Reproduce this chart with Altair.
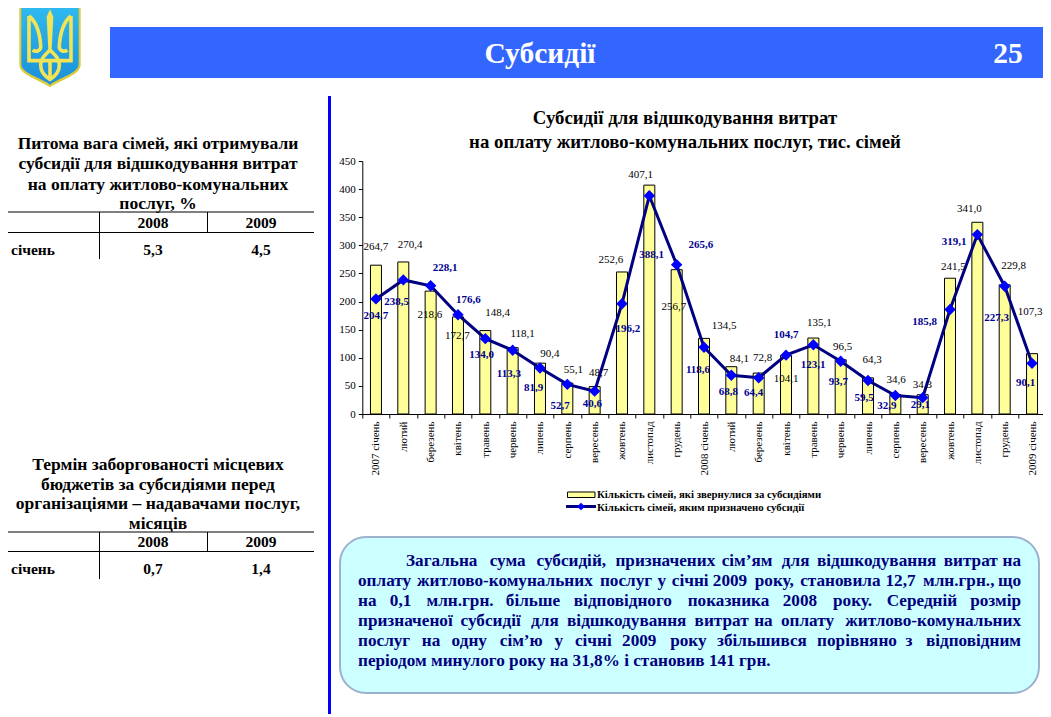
import altair as alt
import pandas as pd

# ---------- data ----------
MONTHS = ["2007 січень", "лютий", "березень", "квітень", "травень", "червень", "липень",
          "серпень", "вересень", "жовтень", "листопад", "грудень",
          "2008 січень", "лютий", "березень", "квітень", "травень", "червень", "липень",
          "серпень", "вересень", "жовтень", "листопад", "грудень", "2009 січень"]
APPLIED = [264.7, 270.4, 218.6, 172.7, 148.4, 118.1, 90.4, 55.1, 48.7, 252.6, 407.1, 256.7,
           134.5, 84.1, 72.8, 104.1, 135.1, 96.5, 64.3, 34.6, 34.3, 241.5, 341.0, 229.8, 107.3]
GRANTED = [204.7, 238.5, 228.1, 176.6, 134.0, 113.3, 81.9, 52.7, 40.6, 196.2, 388.1, 265.6,
           118.6, 68.8, 64.4, 104.7, 123.1, 93.7, 59.5, 32.9, 29.1, 185.8, 319.1, 227.3, 90.1]
SERIES_A = "Кількість сімей, які звернулися за субсидіями"
SERIES_B = "Кількість сімей, яким призначено субсидії"

PAGE_TITLE = "Субсидії"
PAGE_NO = "25"
CHART_TITLE = ["Субсидії для відшкодування витрат", "на оплату житлово-комунальних послуг, тис. сімей"]
T1_TITLE = ["Питома вага сімей, які отримували", "субсидії для відшкодування витрат",
            "на оплату житлово-комунальних", "послуг, %"]
T2_TITLE = ["Термін заборгованості місцевих", "бюджетів за субсидіями перед",
            "організаціями – надавачами послуг,", "місяців"]
T_YEARS = ["2008", "2009"]
T_ROW = "січень"
T1_VALUES = ["5,3", "4,5"]
T2_VALUES = ["0,7", "1,4"]
BOX_LINES = [
    "Загальна сума субсидій, призначених сім’ям для відшкодування витрат на",
    "оплату житлово-комунальних послуг у січні 2009 року, становила 12,7 млн.грн., що",
    "на 0,1 млн.грн. більше відповідного показника 2008 року. Середній розмір",
    "призначеної субсидії для відшкодування витрат на оплату житлово-комунальних",
    "послуг на одну сім’ю у січні 2009 року збільшився  порівняно з відповідним",
    "періодом минулого року на 31,8% і становив 141 грн.",
]

# ---------- label placement (pixels from the data point) ----------
A_DX = [0, 6.7, -0.7, -0.7, 12.4, 10, 10, 6, 4, -11, -8.6, -2.7, 20, 8, 4, 0, 6, 2, 4, 0.7, -0.4, 3.3, -8, 9, -2]
A_DY = [-17.9, -16.7, 24.2, 19.1, -17.3, -13.3, -8.9, -13, -13.3, -11.7, -10.1, 37.6, -12.4, -7.4, -14.8, 23.8,
        -15, -12.7, -17.9, -14.5, -9.4, -11.5, -13.3, -18.5, -41.7]
B_DX = [0, -6.6, 14.6, 10.3, -3.6, -3.7, -6.3, -7.3, -2.4, 6, 2.4, 24.3, -6, -3, -5, 0, -0.3, -2.4, -4, -8.6, -2.4,
        -25.3, -23.3, -8, -6.3]
B_DY = [17.1, 22.4, -17.8, -14.7, 16.3, 23.7, 20, 21.6, 12.8, 25.3, 59.5, -19.7, 22.7, 17, 15.5, -19.8, 20.2, 20.7,
        17.5, 10.5, 7.7, 12.5, 7.4, 31.8, 19.7]

# ---------- layout ----------
PLOT_L, PLOT_T, PLOT_W, PLOT_H = 362.3, 161.0, 683.4, 253.0
PAGE_W, PAGE_H = 1035, 706
SERIF = "Liberation Serif"
NAVY = "#000080"


def px(x):
    return x - PLOT_L


def py(y):
    return y - PLOT_T


one = pd.DataFrame({"a": [0]})


def text(s, x, y, size, color="black", bold=True, align="center"):
    return alt.Chart(one).mark_text(
        text=s, font=SERIF, fontSize=size, fontWeight="bold" if bold else "normal",
        color=color, align=align, baseline="middle"
    ).encode(x=alt.value(px(x)), y=alt.value(py(y)))


def rect(x0, y0, x1, y1, fill, **kw):
    return alt.Chart(one).mark_rect(fill=fill, **kw).encode(
        x=alt.value(px(x0)), x2=alt.value(px(x1)), y=alt.value(py(y0)), y2=alt.value(py(y1)))


def hrule(x0, x1, y, color="black", w=1.0):
    return alt.Chart(one).mark_rule(color=color, strokeWidth=w).encode(
        x=alt.value(px(x0)), x2=alt.value(px(x1)), y=alt.value(py(y)))


def vrule(x, y0, y1, color="black", w=1.0):
    return alt.Chart(one).mark_rule(color=color, strokeWidth=w).encode(
        x=alt.value(px(x)), y=alt.value(py(y0)), y2=alt.value(py(y1)))


# ---------- logo ----------
LOGO_CX, LOGO_CY, LOGO_UNIT = 50.0, 45.0, 45.0


def lg(points):
    """Path text from tokens given in crest-crop coordinates (3 units per pixel)."""
    res, axis = [], 0
    for tok in points.split():
        if tok.isalpha():
            res.append(tok)
            axis = 0
        else:
            v = float(tok) / 3
            v = ((10 + v - LOGO_CX) if axis == 0 else (v - LOGO_CY)) / LOGO_UNIT
            res.append(f"{v:.4f}")
            axis = 1 - axis
    return " ".join(res)


SHIELD = lg("M 28 8 L 212 8 L 212 195 C 212 225 150 240 120 262 C 90 240 28 225 28 195 Z")
SHIELD_IN = lg("M 34 14 L 206 14 L 206 193 C 206 220 148 233 120 254 C 92 233 34 220 34 193 Z")
TRIDENT = lg(
    "M 57 48 L 57 182 L 95 182 M 57 48 C 85 70 90 110 92 135 C 95 152 78 158 68 150 "
    "M 183 48 L 183 182 L 145 182 M 183 48 C 155 70 150 110 148 135 C 145 152 162 158 172 150 "
    "M 120 150 C 105 165 92 175 92 195 C 92 218 110 232 120 238 C 130 232 148 218 148 195 C 148 175 135 165 120 150 "
    "M 120 185 L 120 238 M 92 182 L 148 182"
)
SPEAR = lg("M 120 28 L 130 50 L 125 150 L 115 150 L 110 50 Z")


def logo_part(path, **kw):
    return alt.Chart(one).mark_point(shape=path, size=(2 * LOGO_UNIT) ** 2, opacity=1, **kw).encode(
        x=alt.value(px(LOGO_CX)), y=alt.value(py(LOGO_CY)))


logo = [
    logo_part(SHIELD, filled=True, fill="#DCCB3C", strokeWidth=0),
    logo_part(SHIELD_IN, filled=True, strokeWidth=0,
              fill=alt.Gradient(gradient="linear", x1=0, y1=0, x2=0, y2=1,
                                stops=[alt.GradientStop(offset=0, color="#2FBBF0"),
                                       alt.GradientStop(offset=1, color="#1B8FD8")])),
    logo_part(TRIDENT, filled=False, stroke="#F3E356", strokeWidth=3.6),
    logo_part(SPEAR, filled=True, fill="#F3E356", strokeWidth=0),
]

# ---------- page furniture ----------
decor = []
decor += [rect(110, 27, 1046, 78, "#3366FF")]
decor += [text(PAGE_TITLE, 540, 54, 29.5, "white"), text(PAGE_NO, 1008, 54, 29.5, "white")]
decor += [rect(328, 96, 331, 714, "#0000FF")]
for s, y in zip(CHART_TITLE, [118, 142]):
    decor.append(text(s, 685, y, 18.8))


def table(title, ys, top, mid, row_y, vals, head_y):
    parts = [text(s, 158, y, 17.5) for s, y in zip(title, ys)]
    parts += [hrule(8, 314, top), hrule(8, 314, mid),
              vrule(99.5, top, top + 47), vrule(207.5, top, mid)]
    parts += [text(T_YEARS[0], 153, head_y, 15.5), text(T_YEARS[1], 261, head_y, 15.5)]
    parts += [text(T_ROW, 11, row_y, 15.5, align="left"), text(vals[0], 153, row_y, 15.5),
              text(vals[1], 261, row_y, 15.5)]
    return parts


decor += table(T1_TITLE, [144, 164, 184.5, 204], 212, 232.5, 250, T1_VALUES, 222.5)
decor += table(T2_TITLE, [465, 485, 504, 524], 532, 551.5, 569, T2_VALUES, 541.5)

# ---------- text box ----------
decor.append(rect(340, 537, 1039, 693, "#CCFFFF", stroke="#9DB0CF", strokeWidth=2, cornerRadius=26))
BOX_FONT = 17.2


def raw_width(w):
    total = 0.0
    for ch in w:
        if ch in "іїj,.:’;":
            total += 0.28
        elif ch in "тгсрз":
            total += 0.46
        elif ch in "шщмжюЗ":
            total += 0.76
        elif ch == "%":
            total += 1.0
        elif ch == "-":
            total += 0.33
        elif ch.isupper():
            total += 0.68
        else:
            total += 0.54
    return total


# calibrate the rough glyph widths on the last, unjustified line (419 px wide at this size)
last = BOX_LINES[-1].split()
unit = (419 - 0.25 * BOX_FONT * (len(last) - 1)) / sum(raw_width(w) for w in last)

BOX_Y = [561, 581, 601, 621, 641, 661]
for n, (line, y) in enumerate(zip(BOX_LINES, BOX_Y)):
    left = 406 if n == 0 else 358
    if n == 5:
        decor.append(text(line, left, y, BOX_FONT, NAVY, align="left"))
        continue
    words = line.split()
    widths = [raw_width(w) * unit for w in words]
    gap = (1021 - left - sum(widths)) / (len(words) - 1)
    x = left
    for w, wd in zip(words[:-1], widths[:-1]):
        decor.append(text(w, x, y, BOX_FONT, NAVY, align="left"))
        x += wd + gap
    decor.append(text(words[-1], 1021, y, BOX_FONT, NAVY, align="right"))

# ---------- legend ----------
decor.append(rect(567.5, 492, 595, 497.5, "#FFFF99", stroke="black", strokeWidth=1))
decor.append(hrule(566, 596, 506.5, NAVY, 3))
decor.append(alt.Chart(one).mark_point(shape="diamond", filled=True, fill="#0000FF", size=60, opacity=1).encode(
    x=alt.value(px(581)), y=alt.value(py(506.5))))
decor.append(text(SERIES_A, 597, 494.5, 10.8, align="left"))
decor.append(text(SERIES_B, 597, 507.5, 10.8, align="left"))

# ---------- chart ----------
keys = [f"{i:02d}|{m}" for i, m in enumerate(MONTHS)]
df = pd.DataFrame({"key": keys, "applied": APPLIED, "granted": GRANTED,
                   "a_label": [f"{v:.1f}".replace(".", ",") for v in APPLIED],
                   "b_label": [f"{v:.1f}".replace(".", ",") for v in GRANTED]})

x_axis = alt.Axis(labelExpr="split(datum.label,'|')[1]", labelAngle=270, tickBand="extent",
                  labelFont=SERIF, labelFontSize=11, labelColor="black", tickColor="black",
                  domainColor="black", tickSize=4, labelPadding=3, labelOverlap=False, grid=False, title=None)
x_enc = alt.X("key:N", sort=keys, title=None, scale=alt.Scale(paddingInner=0, paddingOuter=0), axis=x_axis)
y_scale = alt.Scale(domain=[0, 450], nice=False)
y_axis = alt.Axis(values=list(range(0, 451, 50)), labelFont=SERIF, labelFontSize=11, labelColor="black",
                  tickColor="black", domainColor="black", tickSize=4, labelPadding=3, grid=False, title=None,
                  labelOverlap=False)
y_a = alt.Y("applied:Q", scale=y_scale, axis=y_axis)
y_b = alt.Y("granted:Q", scale=y_scale, axis=y_axis)

base = alt.Chart(df)
bars = base.mark_bar(width=11, fill="#FFFF99", stroke="black", strokeWidth=1).encode(x=x_enc, y=y_a)
line = base.mark_line(color=NAVY, strokeWidth=3).encode(x=x_enc, y=y_b)
pts = base.mark_point(shape="diamond", filled=True, fill="#0000FF", size=130, opacity=1).encode(x=x_enc, y=y_b)

labels = []
for i in range(len(keys)):
    row = alt.Chart(df.iloc[[i]])
    labels.append(row.mark_text(font=SERIF, fontSize=11, color="black", baseline="middle", align="center",
                                dx=A_DX[i], dy=A_DY[i]).encode(x=x_enc, y=y_a, text="a_label:N"))
for i in range(len(keys)):
    row = alt.Chart(df.iloc[[i]])
    labels.append(row.mark_text(font=SERIF, fontSize=11, fontWeight="bold", color="#000090", baseline="middle",
                                align="center", dx=B_DX[i], dy=B_DY[i]).encode(x=x_enc, y=y_b, text="b_label:N"))

chart = alt.layer(*logo, *decor, bars, line, pts, *labels).properties(
    width=PLOT_W, height=PLOT_H, background="white",
    autosize=alt.AutoSizeParams(type="none"),
    padding={"left": PLOT_L - 8, "top": PLOT_T - 8,
             "right": PAGE_W - (PLOT_L - 8) - PLOT_W,
             "bottom": PAGE_H - (PLOT_T - 8) - PLOT_H},
).configure_view(stroke=None)

chart.save("out.html", embed_options={"renderer": "svg", "actions": False})
